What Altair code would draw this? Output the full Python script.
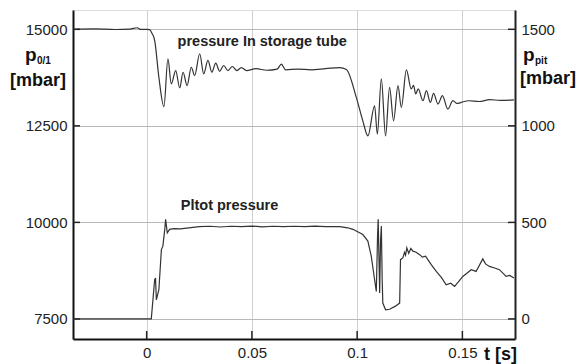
import altair as alt
import pandas as pd

# storage tube pressure p_0/1 [mbar] (left axis)
storage_t = [-0.035, -0.025, -0.015, -0.008, -0.0045, -0.003, 0.0, 0.0014, 0.0025, 0.0038, 0.0058,
             0.0082, 0.0101, 0.0117, 0.0138, 0.0157, 0.0173, 0.0192, 0.0212, 0.0228, 0.0252,
             0.0271, 0.0291, 0.0310, 0.0328, 0.0347, 0.0366, 0.0386, 0.0407, 0.0429, 0.045,
             0.0474, 0.052, 0.057, 0.062, 0.064, 0.066, 0.072, 0.078, 0.085, 0.0917, 0.0949,
             0.0996, 0.1027, 0.1051, 0.1083, 0.1096, 0.1115, 0.1135, 0.1154, 0.1173, 0.1194,
             0.1210, 0.1234, 0.1257, 0.1268, 0.1278, 0.1290, 0.1313, 0.1329, 0.1348, 0.1363,
             0.1384, 0.1405, 0.1431, 0.1455, 0.1475, 0.1495, 0.153, 0.158, 0.163, 0.168, 0.1745]
storage_p = [15000, 15010, 14995, 15005, 15040, 15000, 15000, 14990, 14900, 14714, 13758,
             12995, 14237, 13586, 13932, 13482, 13888, 13542, 14018, 13802, 14367,
             13846, 14193, 13888, 14123, 13914, 14063, 13932, 14037, 13932, 14010,
             13932, 13980, 13940, 13970, 14100, 13950, 13970, 13950, 13980, 14010, 13960,
             13237, 12630, 12240, 13021, 12284, 13716, 12240, 13498, 12630, 13542,
             12977, 13950, 13456, 13550, 13326, 13456, 13151, 13412, 13107, 13342,
             13065, 13282, 12935, 13151, 13080, 13108, 13150, 13130, 13180, 13160, 13170]

# Pitot pressure p_pit [mbar] (right axis)
pitot_t = [-0.035, -0.02, 0.0, 0.0022, 0.0038, 0.0042, 0.0046, 0.0058, 0.0070, 0.0077, 0.0086,
           0.0090, 0.0098, 0.0109, 0.013, 0.016, 0.02, 0.025, 0.03, 0.035, 0.04, 0.045, 0.05,
           0.055, 0.06, 0.065, 0.07, 0.075, 0.08, 0.085, 0.0917, 0.0955, 0.098, 0.1027, 0.1051,
           0.1067, 0.1083, 0.1091, 0.1097, 0.1100, 0.1104, 0.1107, 0.1111, 0.1115, 0.1119,
           0.1122, 0.1135, 0.1154, 0.118, 0.1202, 0.1206, 0.1217, 0.1225, 0.123, 0.1236,
           0.1245, 0.1255, 0.1265, 0.128, 0.1297, 0.131, 0.1325, 0.1336, 0.1352, 0.1376,
           0.14, 0.1423, 0.1445, 0.1463, 0.148, 0.1502, 0.152, 0.1542, 0.1565, 0.1597, 0.161,
           0.1629, 0.165, 0.1676, 0.169, 0.1708, 0.1725, 0.1745]
pitot_p = [0, 0, 0, 0, 203, 212, 99, 151, 359, 377, 464,
           516, 446, 464, 468, 466, 472, 478, 480, 476, 480, 478, 481,
           477, 480, 478, 480, 478, 481, 478, 478, 472, 464, 437, 403,
           325, 203, 142, 429, 516, 300, 134, 400, 481, 200,
           82, 47, 50, 65, 82, 307, 316, 345, 330, 368,
           340, 365, 351, 345, 333, 320, 325, 307, 281, 246,
           215, 177, 185, 168, 190, 220, 235, 255, 246, 311, 285,
           272, 265, 255, 240, 220, 225, 212]

x_ticks = [0, 0.05, 0.1, 0.15]
left_ticks = [7500, 10000, 12500, 15000]
right_ticks = [0, 500, 1000, 1500]

labels = ["pressure In storage tube", "Pltot pressure"]
label_t = [0.0147, 0.0162]
label_p = [14660, 10417]

FONT = "Liberation Sans"
W, H = 442, 329

df_s = pd.DataFrame({"t": storage_t, "p": storage_p})
df_p = pd.DataFrame({"t": pitot_t, "p": pitot_p})

xscale = alt.Scale(domain=[-0.035, 0.175], nice=False, zero=False)
yl = alt.Scale(domain=[6980, 15500], nice=False, zero=False)
yr = alt.Scale(domain=[-104, 1600], nice=False, zero=False)

x_axis = alt.Axis(values=x_ticks, format="~g", title=None, grid=True, gridColor="#d0d0d0",
                  gridWidth=1, tickSize=0, labelPadding=6, labelFontSize=15, labelColor="#222",
                  domainColor="#111", domainWidth=2, labelFont=FONT)
yl_axis = alt.Axis(values=left_ticks, format="d", title=None, grid=True,
                   gridColor="#b8b8b8", tickSize=0, labelPadding=6,
                   labelFontSize=15, labelColor="#222", domainColor="#111",
                   domainWidth=2, labelFont=FONT, orient="left")
yr_axis = alt.Axis(values=right_ticks, format="d", title=None, grid=False,
                   tickSize=0, labelPadding=6, labelFontSize=15,
                   labelColor="#222", domainColor="#222", domainWidth=2,
                   labelFont=FONT, orient="right")

storage = alt.Chart(df_s).mark_line(color="#333", strokeWidth=1.2, interpolate="monotone").encode(
    x=alt.X("t:Q", scale=xscale, axis=x_axis),
    y=alt.Y("p:Q", scale=yl, axis=yl_axis),
)

ann = alt.Chart(pd.DataFrame({"t": label_t, "p": label_p, "s": labels})).mark_text(
    align="left", baseline="middle", fontSize=14.5, fontWeight="bold", font=FONT, color="#222"
).encode(
    x=alt.X("t:Q", scale=xscale, axis=x_axis),
    y=alt.Y("p:Q", scale=yl, axis=yl_axis),
    text="s:N",
)

xt = alt.Chart(pd.DataFrame({"t": x_ticks})).mark_rule(color="#222", strokeWidth=1.5).encode(
    x=alt.X("t:Q", scale=xscale, axis=x_axis), y=alt.value(H - 8), y2=alt.value(H))
lt = alt.Chart(pd.DataFrame({"p": left_ticks})).mark_rule(color="#222", strokeWidth=1.5).encode(
    y=alt.Y("p:Q", scale=yl, axis=yl_axis), x=alt.value(0), x2=alt.value(7))
rt = alt.Chart(pd.DataFrame({"p": left_ticks})).mark_rule(color="#222", strokeWidth=1.5).encode(
    y=alt.Y("p:Q", scale=yl, axis=yl_axis), x=alt.value(W - 7), x2=alt.value(W))


def txt(s, x, y, size, align="left", baseline="alphabetic"):
    return alt.Chart(pd.DataFrame({"s": [s]})).mark_text(
        align=align, baseline=baseline, fontSize=size, fontWeight="bold", font=FONT, color="#111"
    ).encode(x=alt.value(x), y=alt.value(y), text="s:N")


titles = [
    txt("p", -48, 51, 19),
    txt("0/1", -36, 54, 10),
    txt("[mbar]", -35, 71, 18, align="center", baseline="middle"),
    txt("p", 450, 51, 19),
    txt("pit", 462, 54, 10),
    txt("[mbar]", 475, 69, 18, align="center", baseline="middle"),
    txt("t [s]", 411, 345, 18, baseline="middle"),
]

left = alt.layer(storage, ann, xt, lt, rt, *titles)

pitot = alt.Chart(df_p).mark_line(color="#333", strokeWidth=1.2).encode(
    x=alt.X("t:Q", scale=xscale, axis=x_axis),
    y=alt.Y("p:Q", scale=yr, axis=yr_axis),
)

chart = alt.layer(left, pitot).resolve_scale(y="independent").properties(
    width=W, height=H,
    autosize=alt.AutoSizeParams(type="none"),
    padding={"left": 73, "top": 10, "right": 69, "bottom": 25},
    background="white",
).configure_view(stroke="#444", strokeWidth=1.5).configure(font=FONT)

chart.save("out.html", embed_options={"renderer": "svg", "actions": False})
